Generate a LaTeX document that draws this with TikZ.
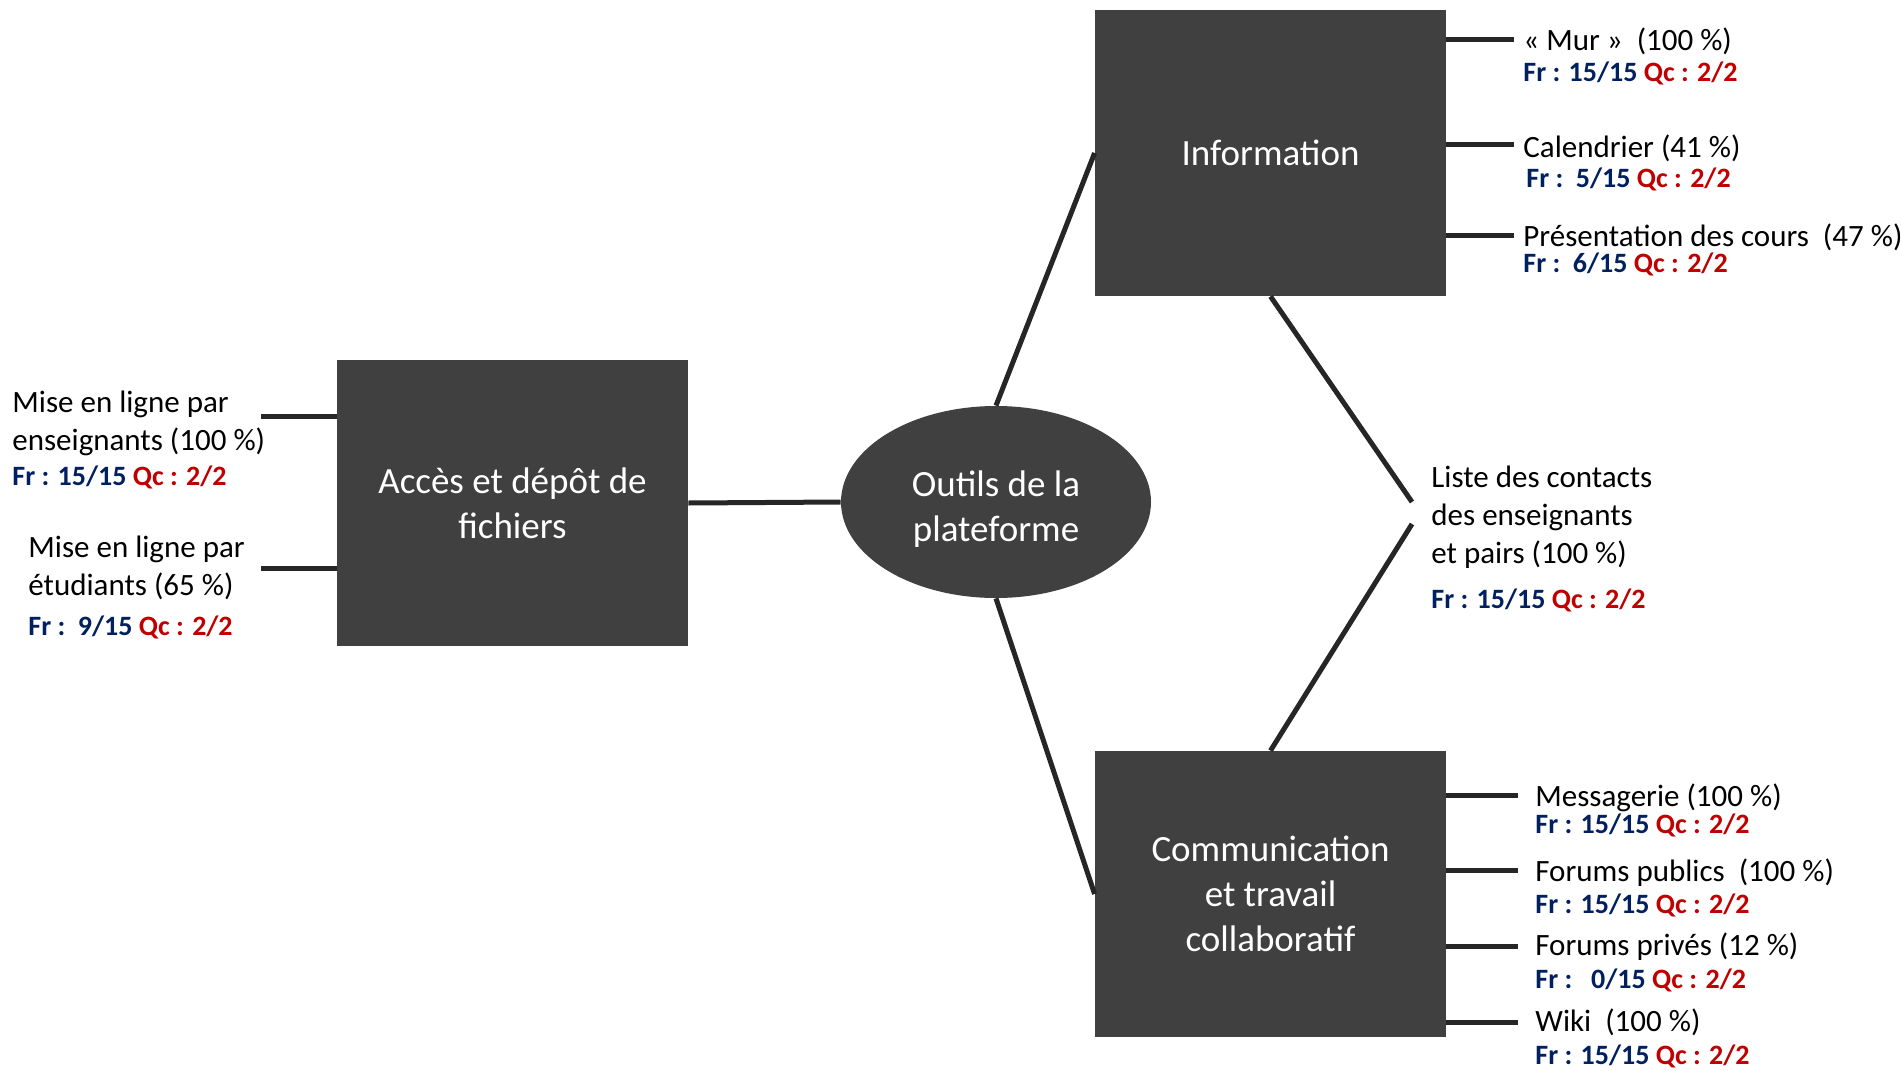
\documentclass[tikz,border=0pt]{standalone}
\usepackage{fontspec}
\setmainfont{Carlito}
\usepackage{tikz}
\usetikzlibrary{shapes.geometric}

\definecolor{boxgray}{RGB}{64,64,64}
\definecolor{linegray}{RGB}{38,38,38}
\definecolor{frblue}{RGB}{0,32,96}
\definecolor{qcred}{RGB}{192,0,0}

\newcommand{\score}[2]{\textcolor{frblue}{Fr :#1}\ \textcolor{qcred}{Qc : #2}}

\begin{document}
\begin{tikzpicture}[x=0.5pt,y=-0.5pt,
                    link/.style={draw=linegray,line width=2.5pt},
                    bloc/.style={rectangle,fill=boxgray,text=white,align=center,
                                 minimum width=175.5pt,minimum height=143pt,
                                 font=\fontsize{18.5}{22.5}\selectfont},
                    item/.style={anchor=base west,inner sep=0pt,align=left,
                                 font=\fontsize{15.5}{19}\selectfont},
                    note/.style={anchor=base west,inner sep=0pt,
                                 font=\bfseries\fontsize{14}{17}\selectfont}]

  \useasboundingbox (0,0) rectangle (1902,1071);

  % centre and the three blocks
  \node[ellipse,fill=boxgray,text=white,align=center,minimum width=155pt,
        minimum height=96pt,text height=42.5pt,inner sep=0pt,
        font=\fontsize{18.5}{22.5}\selectfont]
        (outils) at (996,502) {Outils de la\\plateforme};
  \node[bloc] (acces) at (512.5,503) {Accès et dépôt de\\fichiers};
  \node[bloc] (info)  at (1270.5,153) {Information};
  \node[bloc] (comm)  at (1270.5,894) {Communication\\et travail\\collaboratif};

  % left items (base = last line)
  \node[item] (enseig) at (12,450) {Mise en ligne par\\enseignants (100 \%)};
  \node[note] (enseigfr) at (12,485) {\score{ 15/15}{2/2}};
  \node[item] (etud) at (28,595) {Mise en ligne par\\étudiants (65 \%)};
  \node[note] (etudfr) at (28,635) {\score{\ \ 9/15}{2/2}};

  % information items
  \node[item] (mur)    at (1523,50)  {« Mur »\ \ (100 \%)};
  \node[note] (murfr)  at (1523,81)  {\score{ 15/15}{2/2}};
  \node[item] (cal)    at (1523,157) {Calendrier (41 \%)};
  \node[note] (calfr)  at (1526,187) {\score{\ \ 5/15}{2/2}};
  \node[item] (pres)   at (1523,246) {Présentation des cours\ \ (47 \%)};
  \node[note] (presfr) at (1523,272) {\score{\ \ 6/15}{2/2}};

  % contacts
  \node[item] (liste)   at (1431,563) {Liste des contacts\\des enseignants\\et pairs (100 \%)};
  \node[note] (listefr) at (1431,608) {\score{ 15/15}{2/2}};

  % communication items
  \node[item] (mess)    at (1535,806)  {Messagerie (100 \%)};
  \node[note] (messfr)  at (1535,833)  {\score{ 15/15}{2/2}};
  \node[item] (fpub)    at (1535,881)  {Forums publics\ \ (100 \%)};
  \node[note] (fpubfr)  at (1535,913)  {\score{ 15/15}{2/2}};
  \node[item] (fpriv)   at (1535,955)  {Forums privés (12 \%)};
  \node[note] (fprivfr) at (1535,988)  {\score{\ \ \ 0/15}{2/2}};
  \node[item] (wiki)    at (1535,1031) {Wiki\ \ (100 \%)};
  \node[note] (wikifr)  at (1535,1064) {\score{ 15/15}{2/2}};

  % connectors
  \draw[link] (acces.east) -- (outils.west);
  \draw[link] (outils.north) -- (info.west);
  \draw[link] (outils.south) -- (comm.west);

  \coordinate (hautliste) at (1412,502);
  \coordinate (basliste)  at (1412,524);
  \draw[link] (info.south) -- (hautliste);
  \draw[link] (comm.north) -- (basliste);

  \foreach \n/\y in {g1/416,g2/568}{
    \coordinate (t\n) at (261,\y);
    \draw[link] (acces.west |- t\n) -- (t\n);
  }
  \foreach \n/\y in {i1/39,i2/144,i3/235}{
    \coordinate (t\n) at (1514,\y);
    \draw[link] (info.east |- t\n) -- (t\n);
  }
  \foreach \n/\y in {c1/795,c2/870,c3/946,c4/1022}{
    \coordinate (t\n) at (1518,\y);
    \draw[link] (comm.east |- t\n) -- (t\n);
  }
\end{tikzpicture}
\end{document}
